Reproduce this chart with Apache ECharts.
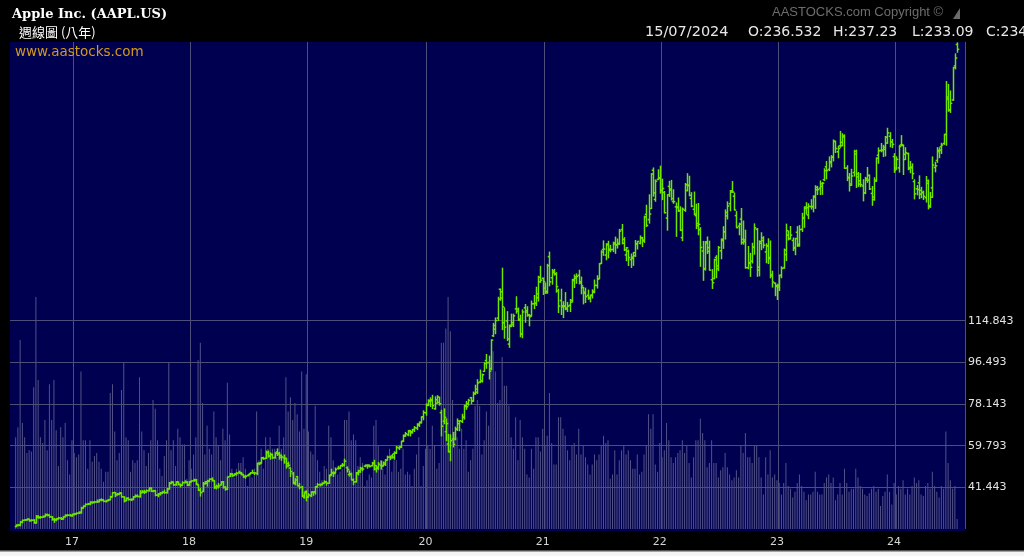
<!DOCTYPE html>
<html><head><meta charset="utf-8">
<script src="https://cdn.jsdelivr.net/npm/echarts@6/dist/echarts.min.js"></script>
<style>html,body{margin:0;padding:0;background:#000;}#c{width:1024px;height:556px;}</style>
</head><body><div id="c"></div>
<script>
// ---- axis labels ----
const yearLabels = ['17','18','19','20','21','22','23','24'];
const yearWeekIndex = [25,77,129,182,234,286,338,390];
const priceTickLabels = [41.443, 59.793, 78.143, 96.493, 114.843];
const firstWeekUTC = Date.UTC(2016, 6, 11);

// ---- weekly OHLC (one entry per week, 2016-07-11 .. 2024-07-15) ----
const weekOpen = [
24.15,24.75,24.75,26.03,26.95,27.10,27.35,26.78,26.98,25.85,28.30,28.10,28.32,28.60,29.35,29.10,28.35,27.30,27.20,27.55,27.70,27.55,28.50,29.05,29.10,
28.95,29.50,29.75,30.05,30.23,32.28,33.08,33.95,34.18,34.77,34.75,35.00,35.15,35.93,35.82,35.20,35.60,36.00,37.25,39.15,38.20,38.40,38.95,37.20,35.55,36.55,36.03,36.10,37.30,37.60,37.40,39.20,39.40,39.40,39.97,40.95,39.70,39.95,38.00,38.55,38.85,39.25,39.10,40.75,43.20,43.70,42.60,43.80,42.60,42.30,43.50,43.72,
42.54,43.94,44.47,44.60,42.54,40.09,39.62,43.01,43.20,44.27,45.07,44.33,41.65,41.66,42.51,43.81,41.42,40.53,46.30,47.25,46.70,47.21,47.91,47.55,46.97,46.04,46.68,47.38,47.88,47.86,47.57,51.88,52.31,54.47,54.20,56.56,55.25,55.81,54.62,56.99,56.49,54.73,54.42,54.22,50.80,49.93,47.48,43.64,46.12,42.25,41.52,37.04,39.63,
37.17,37.71,39.38,39.38,41.74,42.62,42.79,43.24,43.88,43.23,46.98,47.74,47.91,49.81,49.97,51.13,51.23,50.09,47.08,47.17,44.71,43.90,47.89,48.70,49.67,50.79,51.02,51.22,50.92,52.12,49.50,49.70,51.01,51.05,51.61,53.47,54.74,55.23,56.20,56.57,58.72,59.38,61.86,64.33,64.58,65.92,65.92,66.87,67.50,69.25,70.13,72.48,
74.29,77.91,79.30,80.06,76.07,78.54,78.84,74.32,70.57,65.94,60.49,57.02,62.69,62.73,67.08,69.49,70.45,72.29,77.04,78.29,80.88,79.44,82.56,83.31,87.83,88.31,92.50,97.27,96.42,93.71,108.20,112.72,115.98,128.70,127.58,113.95,114.72,104.54,112.89,113.91,120.06,119.96,115.49,109.11,120.50,118.64,117.18,116.97,122.31,122.60,125.02,133.99,
133.52,129.19,127.78,143.07,133.75,136.03,135.49,128.01,123.75,120.93,121.41,120.33,121.65,123.87,132.52,133.51,134.83,132.04,129.41,126.94,126.01,125.08,126.17,127.82,130.30,133.41,140.07,146.21,143.75,148.27,146.36,146.20,148.54,148.31,149.00,155.00,150.63,143.80,145.47,141.76,142.27,143.45,148.68,148.99,151.41,150.37,161.68,159.37,164.29,181.12,168.28,177.09,
177.83,172.32,171.34,160.02,174.01,172.86,167.37,164.98,164.70,163.36,151.45,163.51,172.17,174.57,168.71,163.92,161.12,156.71,154.93,145.55,137.79,149.07,147.03,132.87,133.42,142.70,137.77,145.67,150.74,154.01,161.01,166.37,171.52,169.69,161.15,156.47,159.59,149.31,149.66,138.21,140.42,141.07,147.19,155.08,137.11,148.97,150.16,145.14,147.77,142.70,135.11,131.38,
130.28,130.47,134.83,138.12,143.97,152.57,150.95,150.20,147.05,153.79,147.81,155.07,159.94,164.27,161.42,165.09,165.19,169.28,172.48,173.16,173.98,176.96,182.63,181.50,184.41,186.83,193.78,189.26,191.90,193.41,196.24,182.13,177.97,175.07,180.09,188.28,179.49,176.48,174.20,171.22,176.81,176.75,170.91,169.35,176.38,187.70,189.89,189.84,190.33,193.11,196.09,193.61,
187.15,182.09,182.16,192.30,192.01,188.15,188.42,181.79,182.24,176.15,172.94,175.57,170.57,171.19,169.03,175.36,165.52,173.37,182.35,185.44,189.33,191.51,192.90,196.90,213.37,207.72,212.09,227.09,236.532
];
const weekHigh = [
24.85,25.05,26.28,27.00,27.25,27.56,27.40,27.15,27.15,28.95,28.85,28.60,28.80,29.68,29.58,29.35,28.55,27.75,27.65,28.19,28.10,28.55,29.37,29.38,29.50,
29.58,29.86,30.19,30.60,32.62,33.26,34.07,34.36,35.07,35.03,35.25,35.83,36.12,36.36,35.97,35.72,36.12,37.52,39.16,39.16,38.72,38.99,38.99,37.30,36.79,36.79,36.32,37.34,38.11,38.10,39.94,40.00,40.10,40.25,41.24,41.24,40.00,40.00,38.68,39.18,39.53,40.22,40.90,43.56,44.06,43.80,43.88,43.90,42.88,43.87,44.30,43.87,
43.97,44.34,45.03,44.90,42.54,40.97,43.57,43.99,44.53,45.12,45.60,44.33,42.39,43.14,43.96,43.99,41.73,46.06,47.59,47.41,47.44,48.01,48.55,47.99,46.99,46.64,47.11,47.88,48.99,48.00,52.07,52.19,54.48,54.70,57.42,57.42,56.60,56.03,56.61,58.37,56.82,55.66,55.66,54.22,52.51,49.96,47.99,45.27,46.24,43.14,41.87,39.31,39.84,
38.63,39.47,39.53,41.80,43.09,42.89,43.37,44.30,43.96,46.83,49.42,48.26,49.97,50.71,51.04,51.94,53.83,50.42,48.62,47.69,45.15,47.98,48.99,50.26,50.25,51.27,51.35,51.25,52.43,53.34,50.93,52.38,53.04,52.61,53.61,55.18,55.20,55.94,57.06,59.41,59.53,61.68,64.46,65.62,66.44,66.52,67.00,68.19,69.44,70.20,72.50,75.15,
78.17,80.00,80.85,81.96,81.31,81.81,81.16,75.36,76.00,71.61,64.77,64.56,65.62,67.93,71.58,70.80,73.63,77.59,79.26,80.22,81.06,83.40,86.42,88.85,93.10,91.33,96.32,99.95,99.25,106.42,113.68,116.04,125.18,128.79,137.98,120.50,118.83,112.86,117.72,117.72,125.39,120.42,117.28,119.62,121.99,120.99,117.62,123.47,125.95,129.58,134.41,138.79,
133.61,131.45,139.67,145.09,137.42,137.46,136.01,128.72,128.72,123.21,127.22,122.90,124.18,133.04,135.00,135.47,137.07,134.07,129.54,129.20,128.32,126.16,128.46,132.76,134.64,140.00,145.65,150.00,148.72,149.83,148.05,149.44,151.68,150.86,155.07,157.26,151.42,147.08,145.96,144.22,144.90,150.18,149.73,152.20,151.57,160.87,165.70,170.30,179.63,182.13,176.85,181.33,
182.94,177.18,171.75,170.35,176.24,176.65,172.54,166.69,168.91,165.02,164.48,175.28,179.61,178.49,171.27,171.53,166.20,166.48,155.83,149.77,149.68,151.74,149.87,137.34,141.91,143.49,147.55,150.86,156.28,163.63,167.19,172.17,176.15,171.05,162.90,157.82,164.26,158.74,154.72,147.54,144.52,148.95,157.50,155.45,150.01,153.59,151.83,148.72,150.92,149.97,136.63,131.41,
130.90,134.92,138.61,146.41,157.38,154.33,156.33,151.30,151.11,156.30,156.74,162.14,165.00,166.84,166.32,168.16,169.85,174.30,174.03,176.39,175.77,181.78,184.95,186.99,187.56,194.48,193.88,191.70,198.23,197.20,196.73,183.13,179.69,181.55,189.92,189.98,180.13,179.70,176.97,177.99,182.34,179.08,174.01,177.78,186.57,190.96,192.93,192.09,195.99,199.62,197.68,194.66,
188.44,187.05,191.95,196.38,192.20,191.05,188.67,185.04,183.92,176.90,174.38,178.67,173.60,171.92,178.36,176.82,171.34,187.00,184.66,191.10,191.00,193.00,196.94,220.20,218.95,216.07,226.45,232.39,237.23
];
const weekLow = [
24.10,24.50,24.50,25.80,26.90,27.00,26.52,26.67,25.63,25.65,27.85,27.80,28.20,28.55,28.90,28.25,27.00,26.02,26.75,27.50,27.25,27.40,28.40,28.90,28.85,
28.69,29.28,29.58,29.86,30.08,32.22,32.94,33.82,33.80,34.40,34.62,34.75,35.01,35.56,35.15,35.00,35.53,35.97,37.22,37.34,37.98,38.21,37.10,35.01,35.55,35.85,35.60,35.99,37.10,37.23,37.05,39.01,38.72,39.26,39.75,39.57,39.50,37.70,37.29,38.03,38.66,38.83,38.90,40.63,43.05,42.20,42.32,42.50,41.63,42.27,43.43,42.19,
42.31,43.81,44.09,42.62,40.03,37.56,39.51,42.89,41.95,43.90,44.20,40.97,40.70,41.12,42.46,41.08,40.16,40.46,46.17,46.25,46.55,46.75,47.60,46.94,45.85,45.45,46.47,47.23,47.71,47.09,47.02,51.44,52.06,53.78,54.13,54.69,53.83,54.22,54.30,55.43,53.86,53.33,52.08,49.93,50.70,46.21,43.02,42.56,42.07,40.73,37.41,36.65,35.50,
37.05,37.31,37.93,38.46,41.48,42.03,42.43,43.13,42.38,43.17,46.76,46.19,47.76,49.46,49.70,50.55,50.88,48.19,46.36,44.74,42.57,43.75,46.91,48.04,48.77,50.49,49.85,50.39,50.87,49.08,48.15,49.33,49.45,50.83,51.06,53.40,53.60,54.28,53.78,56.32,58.08,58.89,61.59,63.84,64.17,64.07,65.30,66.02,66.83,68.27,69.74,71.17,
73.19,77.39,77.07,76.11,75.80,78.46,77.63,64.09,69.43,62.00,57.00,53.15,59.22,62.35,66.45,66.36,69.99,71.46,75.80,77.58,78.27,79.30,82.40,82.80,87.58,87.82,92.47,93.88,89.14,93.25,107.89,109.11,114.93,123.83,110.89,107.12,106.09,103.10,112.22,112.25,118.15,114.92,107.72,107.32,114.13,116.81,112.59,116.81,120.15,121.54,123.45,131.72,
126.38,126.86,126.94,130.21,130.93,134.92,127.41,118.39,117.57,116.21,119.68,118.92,118.86,123.07,129.47,131.30,131.07,126.70,122.25,122.86,124.26,123.13,124.83,127.13,129.21,133.35,140.07,143.63,141.67,142.54,145.18,145.30,144.50,146.83,148.45,148.70,145.76,141.27,139.11,138.27,139.20,143.16,146.41,148.64,147.48,149.34,156.36,157.80,164.28,169.69,167.46,176.99,
171.03,168.17,162.30,154.70,169.51,168.04,166.56,152.00,162.95,154.50,150.10,163.01,172.04,169.85,165.04,161.50,155.38,152.68,138.80,132.61,137.14,144.46,137.06,129.04,133.32,133.77,136.93,142.12,146.70,150.80,159.63,163.25,171.31,163.56,155.81,152.68,148.56,148.56,138.00,137.69,134.37,140.27,144.13,134.38,134.59,146.15,146.93,140.35,140.00,133.73,129.64,125.87,
124.17,128.12,133.77,137.93,141.32,150.42,150.85,145.72,143.90,147.61,147.70,154.15,155.98,161.80,159.78,164.03,162.80,164.31,170.42,170.42,170.52,176.57,177.32,180.97,182.59,185.23,188.94,186.60,191.23,191.86,181.92,176.55,171.96,174.41,178.55,173.54,173.98,173.86,167.62,170.82,175.80,172.64,165.67,167.90,176.21,184.21,189.25,187.15,187.45,192.97,191.42,191.09,
180.17,181.50,180.30,191.94,179.25,185.84,181.35,180.00,177.38,168.49,170.29,168.60,169.03,168.23,167.11,164.08,164.77,169.11,180.42,184.62,186.65,188.50,192.52,192.15,207.11,206.59,211.92,225.77,233.09
];
const weekClose = [
24.70,24.67,26.05,26.87,27.05,27.34,26.74,26.93,25.78,28.73,28.18,28.26,28.52,29.41,29.15,28.43,27.21,27.11,27.52,27.95,27.47,28.49,28.99,29.13,28.96,
29.48,29.76,30.00,30.49,32.27,33.03,33.93,34.17,34.79,34.79,35.00,35.16,35.92,35.84,35.26,35.57,35.91,37.24,39.03,38.27,38.40,38.86,37.25,35.57,36.57,36.01,36.05,37.26,37.57,37.38,39.10,39.37,39.38,39.97,41.01,39.66,39.97,37.97,38.53,38.83,39.25,39.06,40.76,43.13,43.67,42.54,43.74,42.76,42.34,43.49,43.75,42.31,
43.75,44.27,44.62,42.88,40.13,39.10,43.11,43.88,44.05,45.00,44.51,41.24,41.95,42.10,43.68,41.43,40.58,45.96,47.15,46.58,47.15,47.56,47.93,47.21,46.23,46.28,46.99,47.83,47.86,47.75,52.00,51.88,54.40,54.04,56.91,55.33,55.96,54.42,56.44,56.07,55.53,54.83,54.08,51.87,51.12,48.38,43.07,44.65,42.12,41.37,37.68,39.06,37.06,
38.07,39.21,39.44,41.63,42.60,42.60,43.24,43.74,43.23,46.53,47.76,47.49,49.25,49.72,50.97,51.08,52.94,49.30,47.25,44.74,43.77,47.54,48.19,49.70,49.48,51.10,50.83,50.65,51.94,51.01,50.25,51.63,50.66,52.19,53.32,54.69,54.43,54.71,56.75,59.05,59.10,61.65,63.96,65.04,66.44,65.45,66.81,67.68,68.79,69.86,72.45,74.36,
77.58,79.68,79.58,77.38,80.01,81.24,78.26,68.34,72.26,69.49,57.31,61.94,60.35,66.99,70.70,70.74,72.27,77.53,76.93,79.72,79.49,82.88,84.70,87.43,88.41,91.03,95.92,96.33,92.62,106.26,111.11,114.91,124.37,124.81,120.96,112.00,106.84,112.28,113.02,116.97,119.02,115.04,108.86,118.69,119.26,117.34,116.59,122.25,122.41,126.66,131.97,132.69,
132.05,127.14,139.07,131.96,136.76,135.37,129.87,121.26,121.42,121.03,119.99,121.21,123.00,133.00,134.16,134.32,131.46,130.21,127.45,125.43,124.61,125.89,127.35,130.46,133.11,139.96,145.11,146.39,148.56,145.86,146.14,149.10,148.19,148.60,154.30,148.97,146.06,146.92,142.65,142.90,144.84,148.69,149.80,151.28,149.99,160.55,156.81,161.84,179.45,171.14,176.28,177.57,
172.17,173.07,162.41,170.33,172.39,168.64,167.30,164.85,163.17,154.73,163.98,174.72,174.31,170.09,165.29,161.79,157.65,157.28,147.11,137.59,149.64,145.38,137.13,131.56,141.66,138.93,147.04,150.17,154.09,162.51,165.35,172.10,171.52,163.62,155.81,157.37,150.70,150.43,138.20,140.09,138.38,147.27,155.74,138.38,149.70,151.29,148.11,147.81,142.16,134.51,131.86,129.93,
129.62,134.76,137.87,145.93,154.50,151.01,152.55,146.71,151.03,148.50,155.00,160.25,164.90,164.66,165.21,165.02,169.68,173.57,172.57,175.16,175.43,180.95,180.96,184.92,187.00,193.97,190.68,190.69,191.94,195.83,181.99,177.79,174.49,178.61,189.46,178.18,175.01,174.79,171.21,177.49,178.85,172.88,168.22,176.65,186.40,189.69,189.97,191.24,195.71,197.57,193.60,192.53,
181.18,185.92,191.56,192.42,185.85,188.85,182.31,182.52,179.66,170.73,172.62,172.28,171.48,169.58,176.55,165.00,169.30,183.38,183.05,189.87,189.98,192.25,196.89,212.49,207.49,210.62,226.34,230.54,234.40
];
// weekly volume, millions of shares
const weekVolume = [
640,710,1320,740,640,530,550,540,990,1620,1040,640,600,760,550,1010,760,1040,690,440,710,640,740,480,380,
620,530,500,520,1100,620,620,420,620,470,510,530,470,420,330,400,400,950,1010,680,480,530,970,1160,640,620,400,480,460,480,1060,680,550,440,530,620,900,840,620,420,370,510,620,1160,550,620,440,700,640,590,590,350,
480,420,520,640,1180,1300,880,520,720,560,520,820,640,580,480,700,620,1020,660,420,360,420,460,460,500,420,300,380,360,420,820,480,560,420,640,560,640,560,560,500,720,560,640,1060,820,920,760,880,800,680,1100,700,1080,
680,540,520,860,480,400,340,440,420,720,640,480,420,380,400,420,760,760,820,620,660,620,440,500,460,300,340,380,360,720,760,580,480,420,380,480,560,400,480,480,400,420,560,380,400,380,300,420,520,640,300,440,
560,580,560,720,580,420,460,1300,1300,1400,1620,1380,900,680,640,560,700,560,620,400,480,560,860,900,860,520,620,820,720,1180,1240,1100,880,900,1200,1000,1000,860,640,560,780,480,760,640,560,380,360,560,420,640,640,540,
700,580,650,950,600,450,450,780,780,700,650,550,480,580,600,520,700,520,580,500,450,380,450,520,480,520,580,650,600,620,350,380,550,380,480,550,580,520,550,480,420,420,520,380,400,520,580,800,700,800,450,400,
600,500,550,740,620,500,460,500,530,550,620,530,580,460,360,500,620,620,770,670,620,430,460,620,460,460,360,410,430,530,430,380,340,360,410,360,580,530,670,500,500,460,580,580,500,360,240,500,380,550,360,380,
340,320,240,320,460,300,280,220,260,320,380,300,260,200,240,240,260,400,260,240,240,320,360,380,320,360,200,240,320,240,420,320,260,280,280,420,360,300,280,240,230,250,280,300,260,280,160,230,260,380,260,170,
320,240,300,280,340,240,280,240,300,360,320,340,240,230,300,320,280,400,300,260,220,300,280,680,460,340,280,300,70
];

// ---- build tables for the library ----
const PAD_L = 2, PAD_R = 3;
const weekDates = weekClose.map((_, i) => new Date(firstWeekUTC + i * 7 * 86400000).toISOString().slice(0, 10));
const categories = [];
for (let i = 0; i < PAD_L; i++) categories.push('padL' + i);
weekDates.forEach(d => categories.push(d));
for (let i = 0; i < PAD_R; i++) categories.push('padR' + i);
const ohlcData = weekClose.map((c, i) => [i + PAD_L, weekOpen[i], weekHigh[i], weekLow[i], c]);
const volData = [];
for (let i = 0; i < PAD_L; i++) volData.push('-');
weekVolume.forEach(v => volData.push(v));
for (let i = 0; i < PAD_R; i++) volData.push('-');
const labelMap = new Map(yearWeekIndex.map((w, k) => [w + PAD_L, yearLabels[k]]));
const lineSet = new Set(yearWeekIndex.map(w => w + PAD_L + 1));

const GREEN = '#6ee400';
const GRIDC = '#4e4e7a';
const NAVY = '#000050';

const chart = echarts.init(document.getElementById('c'), null, {renderer: 'canvas'});
chart.setOption({
  animation: false,
  backgroundColor: '#000000',
  grid: {left: 10, right: 59, top: 42, bottom: 27.05, containLabel: false},
  xAxis: {
    type: 'category', data: categories, boundaryGap: true,
    axisLine: {show: false}, axisTick: {show: false},
    axisLabel: {
      interval: (idx) => labelMap.has(idx),
      formatter: (v, idx) => labelMap.get(idx) || '',
      color: '#d6d6d6', fontFamily: 'DejaVu Sans', fontSize: 11, margin: 8
    },
    splitLine: {show: true, interval: (idx) => lineSet.has(idx), lineStyle: {color: GRIDC, width: 1}}
  },
  yAxis: [{
    type: 'value', position: 'right', min: 23.093, max: 237.623, interval: 18.35,
    axisLine: {show: false}, axisTick: {show: false}, splitLine: {show: false},
    axisLabel: {
      margin: 3, color: '#e4e4e4', fontFamily: 'DejaVu Sans', fontSize: 11,
      formatter: (v) => priceTickLabels.some(t => Math.abs(t - v) < 1e-6) ? v.toFixed(3) : ''
    }
  }, {
    type: 'value', min: 0, max: 3400, show: false, splitLine: {show: false}
  }],
  graphic: {elements: [
    {type: 'rect', z: -10, silent: true, shape: {x: 10, y: 42, width: 955, height: 489}, style: {fill: NAVY}},
    {type: 'rect', z: 50, silent: true, shape: {x: 0, y: 550.5, width: 1024, height: 1}, style: {fill: '#a0a0a0'}},
    {type: 'rect', z: 50, silent: true, shape: {x: 0, y: 551.5, width: 1024, height: 5}, style: {fill: '#f4f4f4'}},
    {type: 'text', z: 50, left: 12, top: 8, style: {text: 'Apple Inc. (AAPL.US)', fill: '#ffffff', font: 'bold 13px "DejaVu Serif"'}},
    {type: 'text', z: 50, left: 19, top: 26, style: {text: '週線圖 (八年)', fill: '#ffffff', font: '13px "Noto Sans CJK TC"'}},
    {type: 'text', z: 50, left: 15, top: 45, style: {text: 'www.aastocks.com', fill: '#d29a1c', font: '13.5px "DejaVu Sans"'}},
    {type: 'text', z: 50, left: 772, top: 6, style: {text: 'AASTOCKS.com Copyright ©', fill: '#6c6c6c', font: '13px "Liberation Sans"'}},
    {type: 'polygon', z: 50, silent: true, shape: {points: [[953, 19], [960, 8], [960, 19]]}, style: {fill: '#6c6c6c'}},
    {type: 'text', z: 50, left: 645, top: 25, style: {text: '15/07/2024', fill: '#e8e8e8', font: '14.5px "DejaVu Sans"'}},
    {type: 'text', z: 50, left: 748, top: 25, style: {text: 'O:236.532', fill: '#e8e8e8', font: '14px "DejaVu Sans"'}},
    {type: 'text', z: 50, left: 833, top: 25, style: {text: 'H:237.23', fill: '#e8e8e8', font: '14px "DejaVu Sans"'}},
    {type: 'text', z: 50, left: 912, top: 25, style: {text: 'L:233.09', fill: '#e8e8e8', font: '14px "DejaVu Sans"'}},
    {type: 'text', z: 50, left: 986, top: 25, style: {text: 'C:234', fill: '#e8e8e8', font: '14px "DejaVu Sans"'}}
  ]},
  series: [{
    name: 'Volume', type: 'bar', xAxisIndex: 0, yAxisIndex: 1, data: volData,
    barWidth: 1, silent: true, z: 2,
    itemStyle: {color: '#525288'}
  }, {
    name: 'AAPL', type: 'custom', xAxisIndex: 0, yAxisIndex: 0, z: 10, silent: true,
    dimensions: ['x', 'open', 'high', 'low', 'close'],
    encode: {x: 0, y: [1, 2, 3, 4]},
    data: ohlcData,
    renderItem: function (params, api) {
      const x = api.value(0);
      const o = api.coord([x, api.value(1)]);
      const h = api.coord([x, api.value(2)]);
      const l = api.coord([x, api.value(3)]);
      const c = api.coord([x, api.value(4)]);
      const cx = Math.round(o[0]) + 0.5;
      const st = {stroke: GREEN, lineWidth: 1.5};
      return {type: 'group', children: [
        {type: 'line', shape: {x1: cx, y1: h[1] - 0.5, x2: cx, y2: l[1] + 0.5}, style: st},
        {type: 'line', shape: {x1: cx - 1.8, y1: o[1], x2: cx, y2: o[1]}, style: st},
        {type: 'line', shape: {x1: cx, y1: c[1], x2: cx + 1.8, y2: c[1]}, style: st}
      ]};
    },
    markLine: {
      silent: true, symbol: ['none', 'none'], label: {show: false},
      lineStyle: {color: GRIDC, width: 1, type: 'solid'},
      data: priceTickLabels.map(v => ({yAxis: v}))
    }
  }]
});
</script>
</body></html>
